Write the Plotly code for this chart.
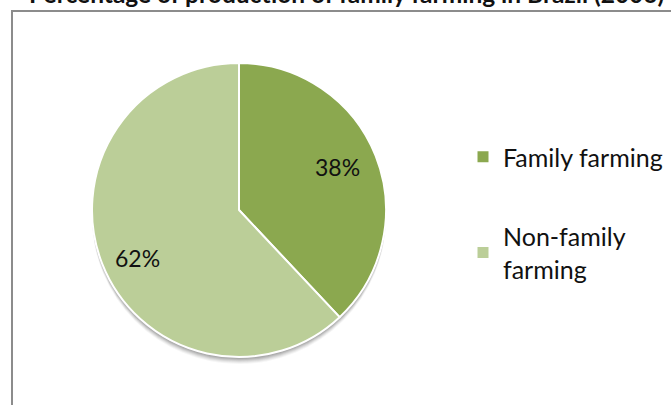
import math
import plotly.graph_objects as go

# Share of production, Brazil 2006
categories = ["Family farming", "Non-family farming"]
legend_labels = ["Family farming", "Non-family<br>farming"]
shares = [38, 62]
colors = ["#8BA84F", "#BBCE98"]

title_text = "Percentage of production of family farming in Brazil (2006)"

W, H = 671, 405
FONT = "Lato, 'Open Sans', sans-serif"

# pie placement in pixels -> paper
cx, cy, r = 239, 210, 147
dom_x = [(cx - r) / W, (cx + r) / W]
dom_y = [(H - (cy + r)) / H, (H - (cy - r)) / H]

fig = go.Figure()

# soft drop shadow under the pie: a few faint grey discs shifted downward
for dy, op in [(7, 0.05), (6, 0.07), (5, 0.09), (4, 0.11), (3, 0.14), (2, 0.16)]:
    fig.add_trace(go.Pie(
        values=[1], labels=["shadow"], marker=dict(colors=["#555555"], line=dict(width=0)),
        opacity=op, textinfo="none", hoverinfo="skip", showlegend=False, sort=False,
        domain=dict(x=dom_x, y=[dom_y[0] - dy / H, dom_y[1] - dy / H]),
    ))

fig.add_trace(go.Pie(
    labels=categories,
    values=shares,
    marker=dict(colors=colors, line=dict(color="white", width=2)),
    sort=False,
    direction="clockwise",
    rotation=0,
    textinfo="none",
    showlegend=False,
    domain=dict(x=dom_x, y=dom_y),
))

# percentage labels placed along each slice's bisector
annotations = []
total = sum(shares)
start = 0.0
label_radius = [0.72, 0.74]
label_dy = [-4, 8]
for v, rf, ddy in zip(shares, label_radius, label_dy):
    mid = (start + v / 2) / total * 2 * math.pi
    start += v
    px = cx + rf * r * math.sin(mid)
    py = cy - rf * r * math.cos(mid) + ddy
    annotations.append(dict(
        text=f"{v}%", xref="paper", yref="paper", x=px / W, y=(H - py) / H,
        xanchor="center", yanchor="middle", showarrow=False,
        font=dict(family=FONT, size=23, color="#111111"),
    ))

annotations.append(dict(
    text=f"<b>{title_text}</b>", xref="paper", yref="paper",
    x=27 / W, y=(H + 7) / H, xanchor="left", yanchor="middle",
    showarrow=False, font=dict(family=FONT, size=24.5, color="#111111"),
))

# legend entries as square markers, one group each for the wide gap between them
for i, (lab, col) in enumerate(zip(legend_labels, colors)):
    fig.add_trace(go.Scatter(
        x=[None], y=[None], mode="markers", name=lab,
        marker=dict(symbol="square", size=11, color=col),
        legendgroup=f"g{i}", showlegend=True,
    ))

fig.update_layout(
    width=W, height=H,
    margin=dict(l=0, r=0, t=0, b=0),
    paper_bgcolor="white",
    plot_bgcolor="white",
    xaxis=dict(visible=False),
    yaxis=dict(visible=False),
    legend=dict(
        x=463 / W, y=(H - 134) / H, xanchor="left", yanchor="top",
        font=dict(family=FONT, size=25, color="#111111"),
        tracegroupgap=44,
        itemsizing="trace",
        bgcolor="rgba(0,0,0,0)",
    ),
    shapes=[
        dict(type="rect", xref="paper", yref="paper",
             x0=12 / W, x1=1.05, y0=-0.05, y1=(H - 11) / H,
             line=dict(color="#8C8C8C", width=2), fillcolor="rgba(0,0,0,0)"),
    ],
    annotations=annotations,
)

fig.write_html("out.html")
